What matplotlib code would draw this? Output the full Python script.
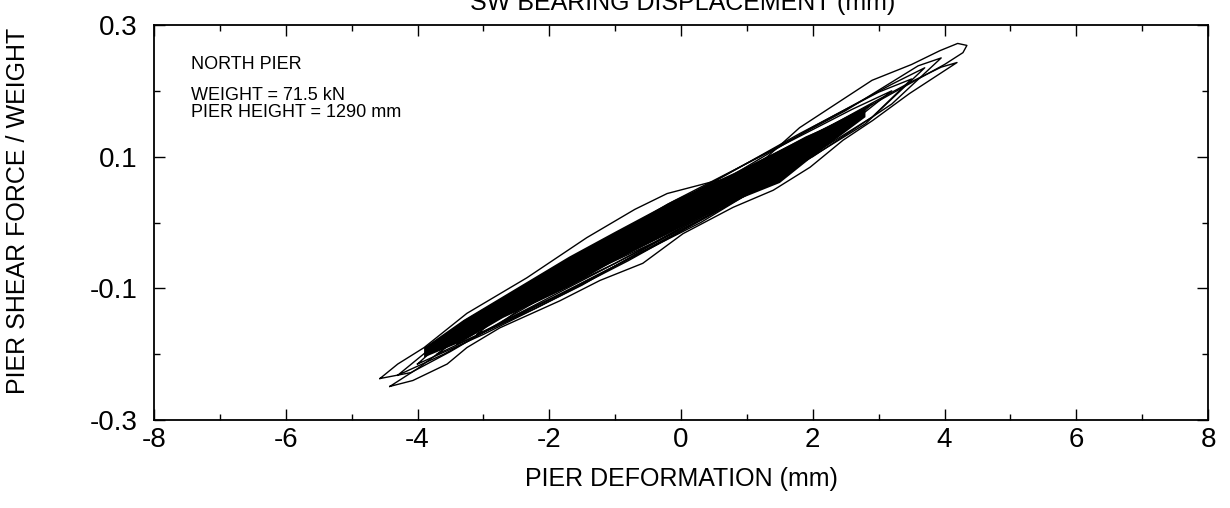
import matplotlib
matplotlib.use("Agg")
import matplotlib.pyplot as plt
from matplotlib.ticker import MultipleLocator, FixedLocator

plt.rcParams['font.family'] = ['Liberation Sans', 'DejaVu Sans']

# hysteresis loops: (x = pier deformation mm, y = shear / weight)
loop_a_x = [-4.57, -4.3, -3.9, -3.25, -2.34, -1.43, -0.7, -0.21, 0.44, 0.79, 1.3, 1.8, 2.9, 3.5, 3.93, 4.2, 4.34,
            4.28, 4.0, 3.4, 2.7, 2.0, 1.2, 0.4, -0.4, -1.2, -2.0, -2.8, -3.5, -4.1, -4.57]
loop_a_y = [-0.237, -0.215, -0.19, -0.138, -0.084, -0.023, 0.02, 0.044, 0.061, 0.068, 0.099, 0.144, 0.216, 0.24, 0.261, 0.272, 0.269,
            0.258, 0.24, 0.207, 0.168, 0.128, 0.08, 0.034, -0.012, -0.06, -0.108, -0.155, -0.196, -0.228, -0.237]

loop_b_x = [-4.42, -4.0, -3.3, -2.4, -1.5, -0.6, 0.3, 1.1, 2.0, 2.8, 3.5, 3.95, 4.19,
            3.47, 2.91, 2.46, 1.96, 1.4, 0.79, 0.03, -0.58, -1.23, -1.84, -2.75, -3.25, -3.55, -4.07, -4.42]
loop_b_y = [-0.249, -0.222, -0.17, -0.112, -0.06, -0.012, 0.035, 0.082, 0.132, 0.176, 0.214, 0.236, 0.243,
            0.196, 0.155, 0.125, 0.084, 0.049, 0.023, -0.017, -0.062, -0.088, -0.119, -0.16, -0.19, -0.215, -0.24, -0.249]

loop_c_x = [-4.3, -3.6, -2.5, -1.0, 0.5, 2.0, 3.2, 3.95, 3.6, 2.5, 1.0, -0.5, -2.0, -3.3, -4.3]
loop_c_y = [-0.232, -0.2, -0.14, -0.062, 0.018, 0.1, 0.18, 0.25, 0.238, 0.17, 0.09, 0.008, -0.075, -0.15, -0.232]

loop_d_x = [-4.0, -3.0, -1.5, 0.0, 1.5, 2.8, 3.7, 3.2, 2.0, 0.5, -1.0, -2.5, -3.5, -4.0]
loop_d_y = [-0.215, -0.17, -0.095, -0.008, 0.07, 0.15, 0.235, 0.21, 0.145, 0.055, -0.025, -0.108, -0.17, -0.215]

loop_e_x = [-3.7, -2.6, -1.2, 0.3, 1.7, 2.9, 3.5, 3.0, 1.8, 0.2, -1.3, -2.7, -3.7]
loop_e_y = [-0.2, -0.148, -0.076, 0.0, 0.085, 0.16, 0.218, 0.198, 0.135, 0.045, -0.04, -0.118, -0.2]

loop_f_x = [-3.4, -2.2, -0.8, 0.6, 2.0, 3.2, 2.6, 1.2, -0.2, -1.6, -2.8, -3.4]
loop_f_y = [-0.185, -0.13, -0.058, 0.02, 0.105, 0.2, 0.172, 0.1, 0.028, -0.055, -0.128, -0.185]

loop_g_x = [-3.1, -1.9, -0.4, 1.0, 2.2, 2.9, 2.3, 0.9, -0.6, -2.0, -3.1]
loop_g_y = [-0.17, -0.113, -0.035, 0.042, 0.118, 0.18, 0.148, 0.077, 0.0, -0.08, -0.17]

loop_h_x = [-2.7, -1.4, 0.0, 1.4, 2.6, 1.9, 0.5, -1.0, -2.7]
loop_h_y = [-0.15, -0.088, -0.012, 0.066, 0.16, 0.13, 0.055, -0.028, -0.15]

loop_i_x = [-2.3, -1.0, 0.4, 2.2, 1.4, 0.0, -1.3, -2.3]
loop_i_y = [-0.125, -0.062, 0.01, 0.135, 0.1, 0.028, -0.045, -0.125]

loop_j_x = [-1.8, -0.4, 1.0, 1.8, 1.0, -0.4, -1.8]
loop_j_y = [-0.095, -0.03, 0.045, 0.11, 0.078, 0.005, -0.095]

# densely overdrawn (solid black) core of the band
core_x = [-3.9, -3.3, -2.5, -1.7, -1.0, -0.1, 0.8, 1.5, 2.0, 2.5, 2.8,
          2.8, 2.4, 2.0, 1.5, 0.8, 0.3, -0.2, -1.0, -1.7, -2.7, -3.3, -3.9]
core_y = [-0.19, -0.148, -0.1, -0.052, -0.014, 0.034, 0.075, 0.11, 0.135, 0.16, 0.175,
          0.16, 0.13, 0.1, 0.06, 0.032, 0.008, -0.018, -0.058, -0.098, -0.145, -0.18, -0.205]

loops = [(loop_a_x, loop_a_y), (loop_b_x, loop_b_y), (loop_c_x, loop_c_y), (loop_d_x, loop_d_y),
         (loop_e_x, loop_e_y), (loop_f_x, loop_f_y), (loop_g_x, loop_g_y), (loop_h_x, loop_h_y),
         (loop_i_x, loop_i_y), (loop_j_x, loop_j_y)]

x_ticks = [-8, -6, -4, -2, 0, 2, 4, 6, 8]
y_ticks = [-0.3, -0.1, 0.1, 0.3]
y_minor = [-0.2, 0.0, 0.2]

fig = plt.figure(figsize=(12.3, 5.08), dpi=100)
ax = fig.add_axes([154 / 1230, 1 - 420 / 508, (1208 - 154) / 1230, (420 - 25) / 508])

ax.fill(core_x, core_y, color='black', lw=0)
for lx, ly in loops:
    ax.plot(lx, ly, color='black', lw=1.0)

ax.set_xlim(-8, 8)
ax.set_ylim(-0.3, 0.3)
ax.set_xticks(x_ticks)
ax.set_xticklabels([str(v) for v in x_ticks])
ax.xaxis.set_minor_locator(MultipleLocator(1))
ax.set_yticks(y_ticks)
ax.set_yticklabels(['-0.3', '-0.1', '0.1', '0.3'])
ax.yaxis.set_minor_locator(FixedLocator(y_minor))

ax.tick_params(which='both', direction='in', top=True, right=True, labelsize=20, width=1.0)
ax.tick_params(which='major', length=8)
ax.tick_params(which='minor', length=4)
ax.tick_params(axis='x', pad=5)
ax.tick_params(axis='y', pad=12)
for s in ax.spines.values():
    s.set_linewidth(1.3)

ax.set_xlabel('PIER DEFORMATION (mm)', fontsize=18, labelpad=10)
ax.set_ylabel('PIER SHEAR FORCE / WEIGHT', fontsize=18)
ax.yaxis.set_label_coords(-0.118, 0.53)

ax.text(0.035, 0.9, 'NORTH PIER', transform=ax.transAxes, fontsize=13, va='center')
ax.text(0.035, 0.8, 'WEIGHT = 71.5 kN\nPIER HEIGHT = 1290 mm', transform=ax.transAxes,
        fontsize=13, va='center', linespacing=0.95)

fig.text(683 / 1230, 1 - 10 / 508, 'SW BEARING DISPLACEMENT (mm)', fontsize=18, ha='center', va='baseline')

fig.savefig('out.png', dpi=100)
